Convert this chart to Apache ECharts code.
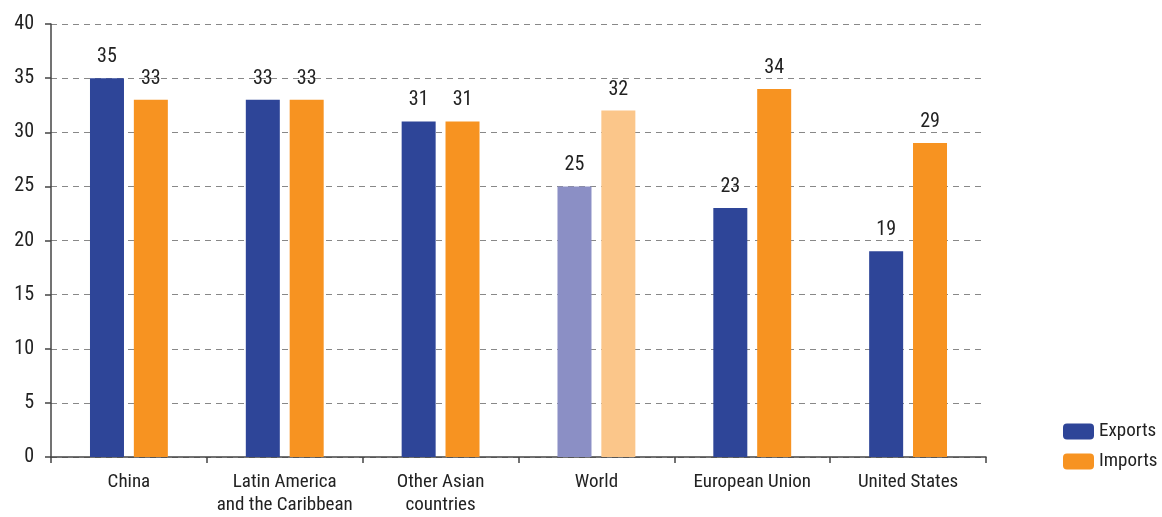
<!DOCTYPE html>
<html><head><meta charset="utf-8">
<script src="https://cdn.jsdelivr.net/npm/echarts@6/dist/echarts.min.js"></script>
<style>html,body{margin:0;padding:0;background:#fff}#c{width:1162px;height:517px}</style>
</head><body><div id="c"></div>
<script>
const categories = ['China', 'Latin America\nand the Caribbean', 'Other Asian\ncountries', 'World', 'European Union', 'United States'];
const exportsVals = [35, 33, 31, 25, 23, 19];
const importsVals = [33, 33, 31, 32, 34, 29];
const yTicks = [0, 5, 10, 15, 20, 25, 30, 35, 40];
const highlightIndex = 3;

const FONT = "'Roboto Condensed', Roboto, sans-serif";
const EXP = '#2E4598', IMP = '#F79321', EXP_L = '#8B8FC5', IMP_L = '#FBC68A';

const chart = echarts.init(document.getElementById('c'), null, {renderer: 'canvas'});
chart.setOption({
  animation: false,
  textStyle: {fontFamily: FONT},
  grid: {left: 51, right: 176, top: 24, bottom: 55, containLabel: false},
  legend: {
    orient: 'vertical', left: 1058, top: 417, itemWidth: 31, itemHeight: 16, itemGap: 11,
    textStyle: {fontFamily: FONT, fontSize: 19, color: '#222', padding: [0,0,0,0]},
    data: [{name: 'Exports', itemStyle:{color:EXP}}, {name: 'Imports', itemStyle:{color:IMP}}]
  },
  xAxis: {
    type: 'category', data: categories,
    axisLine: {lineStyle: {color: '#444', width: 1.5}},
    axisTick: {show: true, length: 6, lineStyle: {color: '#444', width: 1.5}},
    axisLabel: {fontFamily: FONT, fontSize: 19, color: '#222', margin: 14, lineHeight: 23, interval: 0}
  },
  yAxis: {
    type: 'value', min: yTicks[0], max: yTicks[yTicks.length-1], interval: 5,
    axisLine: {show: true, lineStyle: {color: '#444', width: 1.5}},
    axisTick: {show: true, length: 6, lineStyle: {color: '#444', width: 1.5}},
    axisLabel: {fontFamily: FONT, fontSize: 20, color: '#222', margin: 17},
    splitLine: {show: true, lineStyle: {color: '#888', type: [6, 5], width: 1}}
  },
  series: [
    {
      name: 'Exports', type: 'bar', barWidth: 34, barGap: '29%',
      data: exportsVals.map((v, i) => ({value: v, itemStyle: {color: i === highlightIndex ? EXP_L : EXP}})),
      label: {show: true, position: 'top', distance: 11, fontFamily: FONT, fontSize: 20, color: '#222'}
    },
    {
      name: 'Imports', type: 'bar', barWidth: 34,
      data: importsVals.map((v, i) => ({value: v, itemStyle: {color: i === highlightIndex ? IMP_L : IMP}})),
      label: {show: true, position: 'top', distance: 11, fontFamily: FONT, fontSize: 20, color: '#222'}
    }
  ]
});
</script></body></html>
